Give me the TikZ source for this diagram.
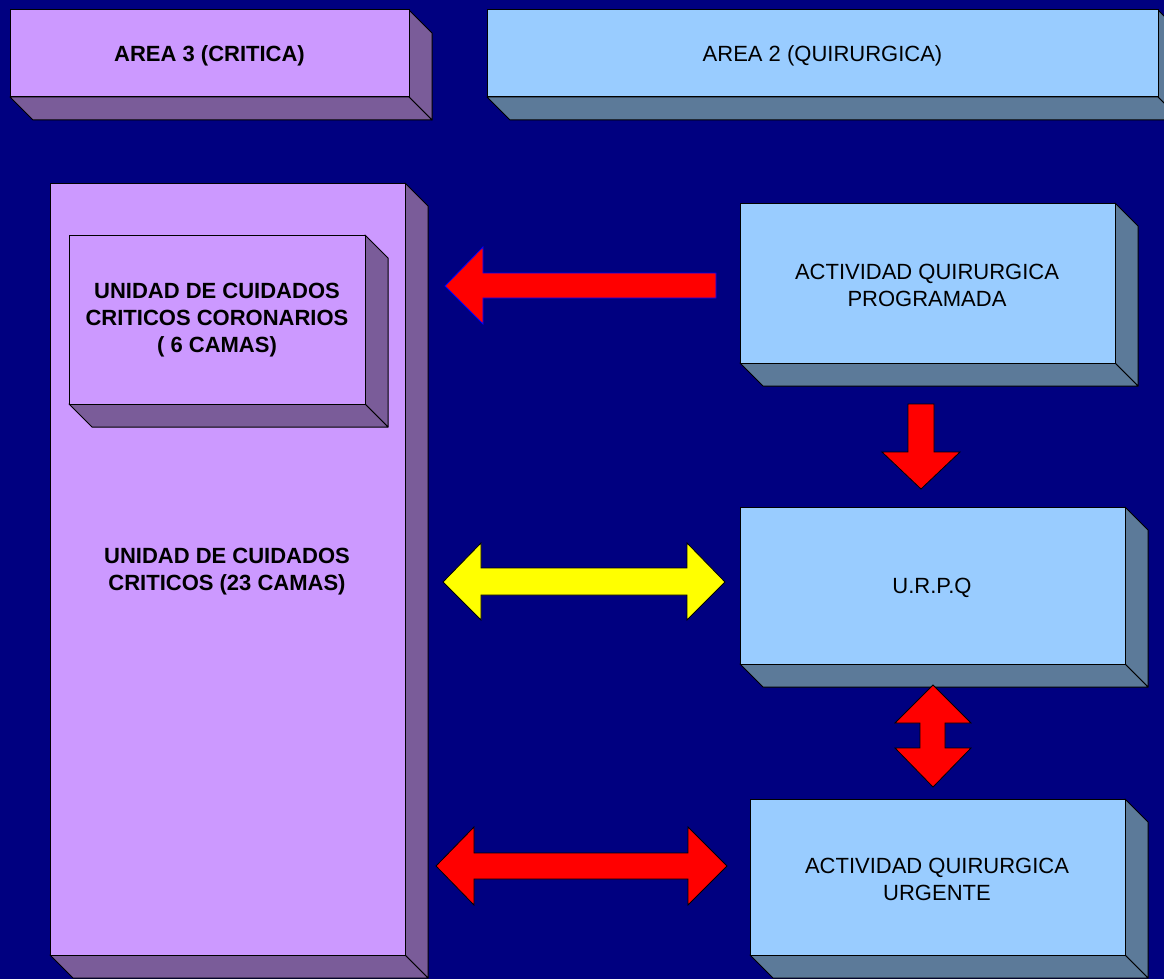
\documentclass[tikz,border=0pt]{standalone}
\usepackage{fontspec}
\setmainfont{Liberation Sans}
\definecolor{bg}{HTML}{000080}
\definecolor{purF}{HTML}{CC99FF}
\definecolor{purS}{HTML}{7A5C99}
\definecolor{bluF}{HTML}{99CCFF}
\definecolor{bluS}{HTML}{5C7A99}
\definecolor{arrRed}{HTML}{FF0000}
\definecolor{arrYel}{HTML}{FFFF00}
% name, x1, y1, x2, y2, front colour, side colour
\newcommand\tdbox[7]{%
  \filldraw[#7,draw=black,line width=1pt,line join=round] (#4,#3) -- (#4+23,#3+23) -- (#4+23,#5+23) -- (#4,#5) -- cycle;
  \filldraw[#7,draw=black,line width=1pt,line join=round] (#2,#5) -- (#4,#5) -- (#4+23,#5+23) -- (#2+23,#5+23) -- cycle;
  \filldraw[#6,draw=black,line width=1pt] (#2,#3) rectangle (#4,#5);
  \coordinate (#1) at ({(#2+#4)/2},{(#3+#5)/2});
}
\begin{document}
\begin{tikzpicture}[x=1pt,y=-1pt,
  lbl/.style={align=center,text=black,font=\fontsize{22}{27}\selectfont,inner sep=0pt,yshift=-2.5pt},
  blbl/.style={lbl,font=\fontsize{22}{27}\selectfont\bfseries},
  blockarrow/.style={line width=0.8pt,line join=miter}]
\useasboundingbox (0,0) rectangle (1164,979);
\fill[bg] (0,0) rectangle (1164,979);
\clip (0,0) rectangle (1164,979);

\tdbox{a3}{10}{10}{409}{97}{purF}{purS}
\tdbox{a2}{487}{10}{1158}{97}{bluF}{bluS}
\tdbox{ucc}{50}{183}{405}{955}{purF}{purS}
\tdbox{ucor}{69}{235}{365}{404}{purF}{purS}
\tdbox{prog}{740}{203}{1115}{363}{bluF}{bluS}
\tdbox{urpq}{740}{507}{1125}{664}{bluF}{bluS}
\tdbox{urg}{750}{799}{1125}{955}{bluF}{bluS}

\node[blbl] (ta3) at (a3) {AREA 3 (CRITICA)};
\node[lbl] (ta2) at (a2) {AREA 2 (QUIRURGICA)};
\node[blbl] (tucc) at (227,569) {UNIDAD DE CUIDADOS\\CRITICOS (23 CAMAS)};
\node[blbl] (tucor) at (217,318) {UNIDAD DE CUIDADOS\\CRITICOS CORONARIOS\\( 6 CAMAS)};
\node[lbl] (tprog) at (927,283) {ACTIVIDAD QUIRURGICA\\PROGRAMADA};
\node[lbl] (turpq) at (932,585) {U.R.P.Q};
\node[lbl] (turg) at (937,877) {ACTIVIDAD QUIRURGICA\\URGENTE};

% left red arrow
\filldraw[blockarrow,fill=arrRed,draw=blue] (445,286) -- (483,247) -- (483,273) -- (716,273) -- (716,298) -- (483,298) -- (483,324) -- cycle;
% down red arrow
\filldraw[blockarrow,fill=arrRed,draw=black] (908,404) -- (934,404) -- (934,452) -- (960,452) -- (921,489) -- (882,452) -- (908,452) -- cycle;
% up-down red arrow
\filldraw[blockarrow,fill=arrRed,draw=black] (933,685) -- (971,723) -- (945,723) -- (945,748) -- (971,748) -- (933,787) -- (895,748) -- (920,748) -- (920,723) -- (895,723) -- cycle;
% yellow double arrow
\filldraw[blockarrow,fill=arrYel,draw=black] (443,582) -- (481,543) -- (481,568) -- (687,568) -- (687,543) -- (725,582) -- (687,620) -- (687,595) -- (481,595) -- (481,620) -- cycle;
% red double arrow
\filldraw[blockarrow,fill=arrRed,draw=black] (436,866) -- (474,827) -- (474,853) -- (688,853) -- (688,827) -- (727,866) -- (688,905) -- (688,879) -- (474,879) -- (474,905) -- cycle;
\end{tikzpicture}
\end{document}
